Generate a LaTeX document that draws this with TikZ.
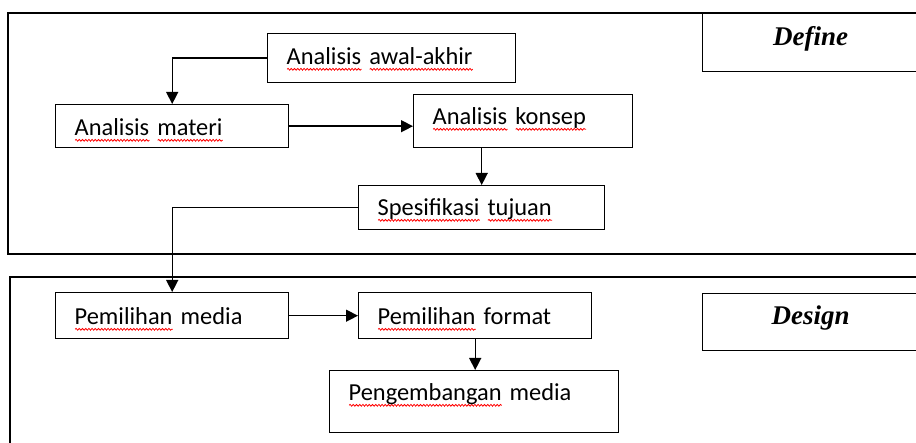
\documentclass[tikz,border=0pt]{standalone}
\usepackage{fontspec}
\setmainfont{Carlito}
\newfontfamily\timesfont{Liberation Serif}
\usepackage{tikz}
\usetikzlibrary{arrows.meta,%
                shapes,positioning,decorations.pathmorphing}
\newsavebox{\kata}
\newlength{\lebar}
\newcommand{\salah}[1]{\sbox{\kata}{#1}\setlength{\lebar}{\wd\kata}%
  \rlap{\tikz[baseline=0pt]\draw[red,line width=0.4pt,decorate,
    decoration={snake,amplitude=0.45pt,segment length=1.6pt}] (0pt,-2.3pt) -- (\lebar,-2.3pt);}\usebox{\kata}}
\newcommand{\rapat}{\spaceskip=1.6pt\relax}

\begin{document}
\begin{tikzpicture}[x=0.5pt,y=-0.5pt,
  box/.style 2 args={draw,line width=0.7pt,anchor=north west,inner xsep=9.5pt,inner ysep=0pt,
    align=left,text height=#1,text depth=#2,font=\fontsize{12.2}{14}\selectfont\rapat},
  tahap/.style 2 args={box={#1}{#2},align=center,text width=89pt,
    font=\timesfont\fontsize{13.5}{16}\selectfont\bfseries\itshape},
  panah/.style={line width=0.7pt,-{Triangle[length=6pt,width=6pt]}}]
\useasboundingbox (0,0) rectangle (916,443);
\clip (0,0) rectangle (916,443);
%\draw[help lines] (0,0) grid (916,443);
\draw[line width=0.7pt] (8,13) rectangle (930,254);
\draw[line width=0.7pt] (10,277) rectangle (930,460);
\node[box={15.5pt}{9pt},text width=105pt] (A) at (267,33) {\salah{Analisis} \salah{awal-akhir}};
\node[box={15.5pt}{6pt},text width=97.5pt] (M) at (55,104) {\salah{Analisis} \salah{materi}};
\node[box={15pt}{11.5pt},text width=90.5pt] (K) at (413,94) {\salah{Analisis} \salah{konsep}};
\node[box={15pt}{7pt},text width=104pt] (T) at (358,185) {\salah{Spesifikasi} \salah{tujuan}};
\node[box={16pt}{7pt},text width=97.5pt] (P) at (55,292) {\salah{Pemilihan} media};
\node[box={16pt}{7pt},text width=97.5pt] (F) at (358,292) {\salah{Pemilihan} format};
\node[box={15pt}{16pt},text width=125.5pt] (B) at (329,370) {\salah{Pengembangan} media};
\node[tahap={16pt}{13pt}] (Def) at (702,13) {Define};
\node[tahap={15.5pt}{13pt}] (Des) at (702,293) {Design};
\draw[panah] (A.west) -| (M.north);
\draw[panah] (M.east) -- (M.east -| K.west);
\draw[panah] (T.north |- K.south) -- (T.north);
\draw[panah] (T.west) -| (P.north);
\draw[panah] (P.east) -- (F.west);
\draw[panah] (F.south) -- (F.south |- B.north);
\end{tikzpicture}
\end{document}
